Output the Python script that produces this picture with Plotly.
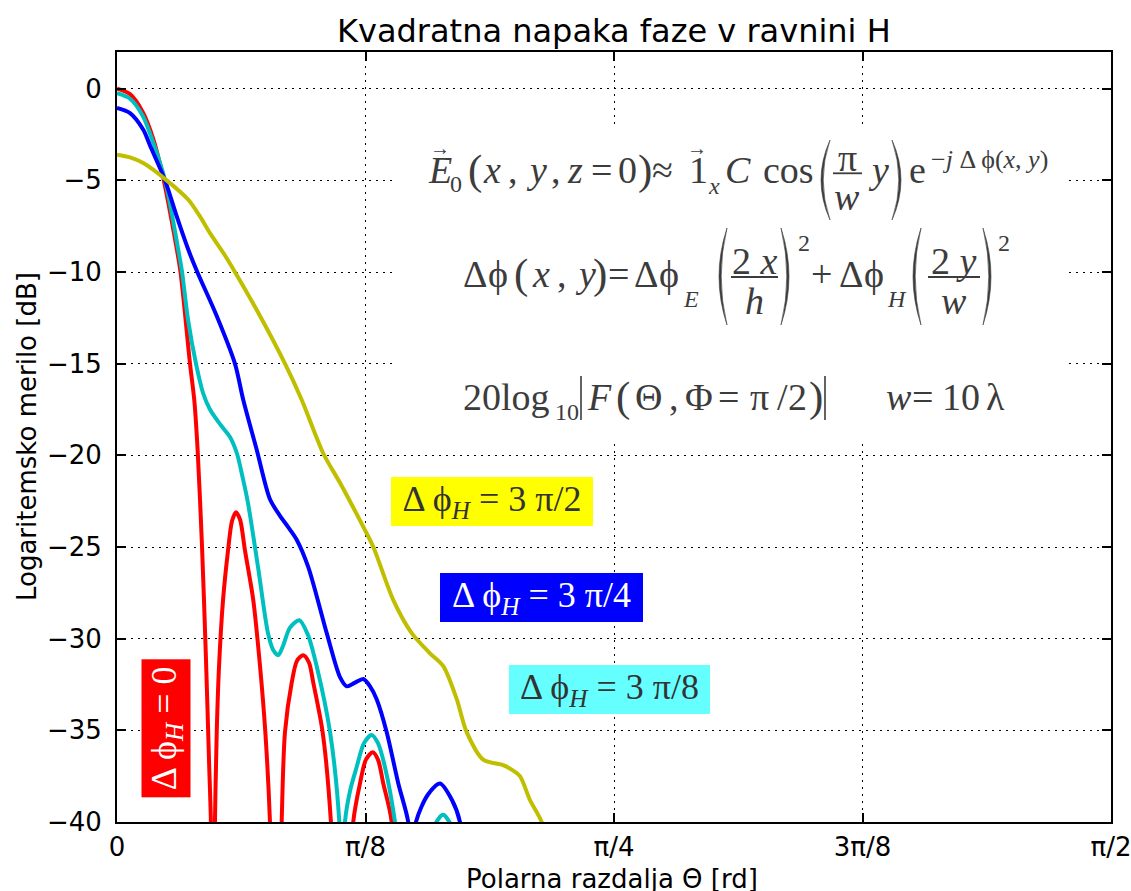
import numpy as np
import plotly.graph_objects as go

# ---------------- data (theta in degrees, level in dB) ----------------
theta_red_deg = [0.00, 1.18, 2.35, 3.26, 4.16, 5.25, 5.75, 6.61, 7.00, 7.30, 7.70, 8.05, 8.35, 8.50, 8.65,
                 8.87, 9.03, 9.24, 9.60, 10.05, 10.41, 10.77, 11.14, 11.59, 12.34, 12.95, 13.43, 13.85, 14.40,
                 14.91, 15.21, 15.82, 16.30, 16.87, 17.38, 17.77, 18.62, 19.37, 20.37,
                 21.39, 22.00, 22.54, 23.15, 23.63, 24.11, 24.87, 25.62]
db_red = [0.0, -0.3, -1.3, -2.7, -4.8, -8.2, -10.0, -15.0, -17.0, -19.7, -25.0, -31.0, -37.0, -40.0, -55.0,
          -40.0, -35.1, -31.5, -27.9, -25.2, -23.6, -23.1, -23.5, -25.2, -27.9, -31.5, -35.1, -40.0, -55.0,
          -40.0, -35.1, -32.4, -31.2, -30.9, -31.3, -32.4, -35.1, -40.0, -55.0,
          -40.0, -37.9, -36.6, -36.2, -36.6, -37.9, -40.0, -55.0]

theta_cyan_deg = [0.00, 1.18, 2.35, 3.26, 4.35, 5.55, 5.89, 6.43, 7.15, 7.79, 8.42, 9.33, 10.23, 10.86, 11.41,
                  11.86, 12.77, 13.67, 14.13, 14.60, 15.03, 15.66, 16.51, 17.29, 18.08, 19.29, 20.13, 20.37,
                  20.64, 21.10, 21.70, 22.36, 23.06, 23.63, 24.26, 25.17, 26.98, 28.70, 29.52, 30.33, 31.51]
db_cyan = [-0.25, -0.55, -1.5, -2.9, -5.0, -8.8, -10.0, -12.6, -15.0, -16.6, -17.5, -18.3, -19.0, -19.9, -21.3,
           -22.6, -26.1, -29.7, -30.6, -30.9, -30.4, -29.4, -29.0, -29.8, -31.5, -35.1, -40.0, -46.0,
           -40.0, -38.3, -37.0, -35.7, -35.25, -35.7, -37.0, -40.0, -50.0, -40.3, -39.6, -40.3, -45.0]

theta_blue_deg = [0.00, 1.18, 2.38, 2.99, 4.35, 5.41, 6.46, 7.27, 9.03, 10.68, 11.44, 12.65, 13.85, 14.76,
                  15.48, 16.27, 17.32, 18.99, 20.19, 20.80, 21.55, 22.30, 22.91, 23.51, 24.42, 25.47, 26.37,
                  26.71, 27.07, 28.16, 29.24, 30.33, 31.05, 31.60]
db_blue = [-1.05, -1.33, -2.24, -3.1, -5.0, -6.97, -8.79, -10.0, -12.4, -15.0, -17.0, -19.7, -22.4, -23.3,
           -23.9, -24.6, -26.1, -29.7, -32.1, -32.6, -32.4, -32.2, -32.6, -33.3, -35.1, -37.9, -40.0,
           -43.0, -40.0, -38.5, -37.9, -38.8, -40.0, -44.0]

theta_yellow_deg = [0.00, 1.18, 2.38, 4.50, 6.46, 7.51, 8.42, 9.78, 10.68, 12.95, 15.21, 16.72, 18.68, 20.19,
                    22.30, 23.21, 25.02, 26.68, 28.34, 29.54, 30.76, 31.66, 33.16, 34.97, 35.88, 36.49, 37.39,
                    38.45, 39.02]
db_yellow = [-3.6, -3.75, -4.06, -5.0, -6.06, -6.97, -7.88, -9.1, -10.0, -12.4, -15.0, -16.97, -19.9, -21.5,
             -23.9, -25.0, -27.9, -29.7, -30.8, -31.5, -33.3, -35.1, -36.6, -36.9, -37.2, -37.5, -38.8,
             -40.0, -41.5]

x_tick_vals = [0, np.pi / 8, np.pi / 4, 3 * np.pi / 8, np.pi / 2]
x_tick_text = ["0", "π/8", "π/4", "3π/8", "π/2"]
y_tick_vals = [-40, -35, -30, -25, -20, -15, -10, -5, 0]

PHI = "ϕ"
series_labels = [f"Δ {PHI}<sub><i>H</i></sub> = 0", f"Δ {PHI}<sub><i>H</i></sub> = 3 π/8",
                 f"Δ {PHI}<sub><i>H</i></sub> = 3 π/4", f"Δ {PHI}<sub><i>H</i></sub> = 3 π/2"]
line_colors = ["#ff0000", "#00bfbf", "#0000ff", "#bfbf00"]

title_text = "Kvadratna napaka faze v ravnini H"
x_title = "Polarna razdalja Θ [rd]"
y_title = "Logaritemsko merilo [dB]"

# ---------------- figure ----------------
W, H = 1131, 891
L, R, T, B = 117, 1111, 52, 822
SERIF = "Liberation Serif"
SANS = "DejaVu Sans"
EQ = "#3c3c3c"


def PX(px):
    return (px - L) / (R - L)


def PY(py):
    return (B - py) / (B - T)


fig = go.Figure()
for th, db, col in [(theta_red_deg, db_red, line_colors[0]),
                    (theta_cyan_deg, db_cyan, line_colors[1]),
                    (theta_blue_deg, db_blue, line_colors[2]),
                    (theta_yellow_deg, db_yellow, line_colors[3])]:
    fig.add_trace(go.Scatter(x=np.deg2rad(th), y=db, mode="lines",
                             line=dict(color=col, width=4, shape="spline", smoothing=0.8),
                             showlegend=False, hoverinfo="skip"))

axis_common = dict(ticks="inside", ticklen=9, tickwidth=1.5, tickcolor="black",
                   showline=True, linewidth=2, linecolor="black", mirror="allticks",
                   showgrid=True, gridcolor="black", gridwidth=1, griddash="2px,5px",
                   zeroline=False, automargin=False, ticklabeloverflow="allow",
                   tickfont=dict(family=SANS, size=26, color="black"))

fig.update_layout(
    width=W, height=H, margin=dict(l=L, r=W - R, t=T, b=H - B),
    paper_bgcolor="white", plot_bgcolor="white", showlegend=False,
    xaxis=dict(range=[0, np.pi / 2], tickvals=x_tick_vals, ticktext=x_tick_text,
               ticklabelstandoff=1, **axis_common),
    yaxis=dict(range=[-40, 2], tickvals=y_tick_vals, ticklabelstandoff=8, **axis_common),
)

annotations = []
shapes = []


def txt(px, base, s, size, family=SERIF, color=EQ, xanchor="left", angle=0):
    k = 0.346 if family == SANS else 0.3375
    annotations.append(dict(x=PX(px), y=PY(base - k * size), xref="paper", yref="paper", text=s,
                            showarrow=False, xanchor=xanchor, yanchor="middle", borderpad=0,
                            textangle=angle, font=dict(family=family, size=size, color=color)))


def paren(x_end, x_bulge, top, bot, w=2.2):
    inner = x_bulge + w if x_bulge < x_end else x_bulge - w
    mid = (top + bot) / 2
    c_out = 2 * x_bulge - x_end
    c_in = 2 * inner - x_end
    path = (f"M {PX(x_end)},{PY(top)} Q {PX(c_out)},{PY(mid)} {PX(x_end)},{PY(bot)} "
            f"Q {PX(c_in)},{PY(mid)} {PX(x_end)},{PY(top)} Z")
    shapes.append(dict(type="path", xref="paper", yref="paper", path=path,
                       fillcolor=EQ, line=dict(width=0.6, color=EQ), layer="above"))


def seg(x0, x1, y0, y1, w=1.8):
    shapes.append(dict(type="line", xref="paper", yref="paper", x0=PX(x0), x1=PX(x1), y0=PY(y0), y1=PY(y1),
                       line=dict(color=EQ, width=w), layer="above"))


def arrow_over(cx, cy):
    annotations.append(dict(x=PX(cx), y=PY(cy), xref="paper", yref="paper", text="→", showarrow=False,
                            xanchor="center", yanchor="middle", borderpad=0,
                            font=dict(family=SERIF, size=20, color=EQ)))


# white background behind the formulas
shapes.append(dict(type="rect", xref="paper", yref="paper", x0=PX(395), x1=PX(1068), y0=PY(440), y1=PY(125),
                   fillcolor="white", line=dict(width=0), layer="above"))

# title and axis titles
txt(614, 41.7, title_text, 32, family=SANS, color="black", xanchor="center")
txt(612, 888, x_title, 26, family=SANS, color="black", xanchor="center")
annotations.append(dict(x=PX(27), y=PY(437), xref="paper", yref="paper", text=y_title, showarrow=False,
                        xanchor="center", yanchor="middle", textangle=-90, borderpad=0,
                        font=dict(family=SANS, size=26, color="black")))

# ---- formula line 1 ----
b1 = 183
txt(427, b1, "<i>E</i>", 38)
arrow_over(440, 148)
txt(449, 192, "0", 24)
txt(467, b1 + 2, "(", 43)
txt(482, b1, "<i>x</i>", 38)
txt(507, b1, ",", 38)
txt(525, b1, "<i>y</i>", 38)
txt(550, b1, ",", 38)
txt(566, b1, "<i>z</i>", 38)
txt(590, b1, "=", 38)
txt(617, b1, "0", 38)
txt(637, b1 + 2, ")", 43)
txt(651, b1, "≈", 38)
txt(688, b1, "1", 38)
arrow_over(697, 148)
txt(707, 194, "<i>x</i>", 24)
txt(724, b1, "<i>C</i>", 38)
txt(762, b1, "cos", 38)
paren(830, 821, 140, 220)
seg(833, 862, 173.3, 173.3)
txt(847, 171, "π", 38, xanchor="center")
txt(847, 210, "<i>w</i>", 38, xanchor="center")
txt(867, b1, "<i>y</i>", 38)
paren(892, 901, 140, 220)
txt(908, b1, "e", 38)
txt(930, 168, f"−<i>j</i> Δ {PHI}(<i>x</i>, <i>y</i>)", 26)

# ---- formula line 2 ----
b2 = 287
txt(462, b2, "Δ", 38)
txt(487, b2, PHI, 38)
txt(513, b2 + 2, "(", 43)
txt(531, b2, "<i>x</i>", 38)
txt(556, b2, ",", 38)
txt(574, b2, "<i>y</i>", 38)
txt(592, b2 + 2, ")", 43)
txt(607, b2, "=", 38)
txt(633, b2, "Δ", 38)
txt(658, b2, PHI, 38)
txt(682, 307, "<i>E</i>", 24)
paren(727, 719, 228, 325)
txt(754.5, 274, "2 <i>x</i>", 38, xanchor="center")
seg(731, 778, 277, 277)
txt(754.5, 314, "<i>h</i>", 38, xanchor="center")
paren(781, 789, 228, 325)
txt(797, 251, "2", 24)
txt(810, b2, "+", 38)
txt(838, b2, "Δ", 38)
txt(863, b2, PHI, 38)
txt(886, 307, "<i>H</i>", 24)
paren(921, 913, 228, 325)
txt(954, 274, "2 <i>y</i>", 38, xanchor="center")
seg(928, 980, 277, 277)
txt(954, 314, "<i>w</i>", 38, xanchor="center")
paren(983, 991, 228, 325)
txt(997, 251, "2", 24)

# ---- formula line 3 ----
b3 = 410
txt(462, b3, "20", 38)
txt(500, b3, "log", 38)
txt(554, 420, "10", 24)
seg(581, 581, 376, 420, w=1.6)
txt(586, b3, "<i>F</i>", 38)
txt(615, b3 + 2, "(", 43)
txt(634, b3, "Θ", 38)
txt(668, b3, ",", 38)
txt(684, b3, "Φ", 38)
txt(717, b3, "=", 38)
txt(749, b3, "π", 38)
txt(776, b3, "/", 38)
txt(787, b3, "2", 38)
txt(808, b3 + 2, ")", 43)
seg(825, 825, 376, 420, w=1.6)
txt(885, b3, "<i>w</i>", 38)
txt(911, b3, "=", 38)
txt(941, b3, "10", 38)
txt(985, b3, "λ", 38)


# ---- curve labels ----
def label(cx, cy, w, h, s, bg, fg, angle=0):
    annotations.append(dict(x=PX(cx), y=PY(cy), xref="paper", yref="paper", text=s, showarrow=False,
                            xanchor="center", yanchor="middle", width=w, height=h, bgcolor=bg,
                            borderpad=0, borderwidth=0, textangle=angle, align="center", valign="middle",
                            font=dict(family=SERIF, size=36, color=fg)))


label(492, 501.3, 202, 49, series_labels[3], "#ffff00", "#333333")
label(541.5, 597.2, 203, 49, series_labels[2], "#0000ff", "#ffffff")
label(609.5, 689.5, 201, 49, series_labels[1], "#66ffff", "#333333")
label(166.4, 727.9, 138, 49, series_labels[0], "#ff0000", "#ffffff", angle=-90)

fig.update_layout(annotations=annotations, shapes=shapes)
fig.write_html("out.html", config={"displayModeBar": False},
               post_script="document.body.style.margin='0px';")
